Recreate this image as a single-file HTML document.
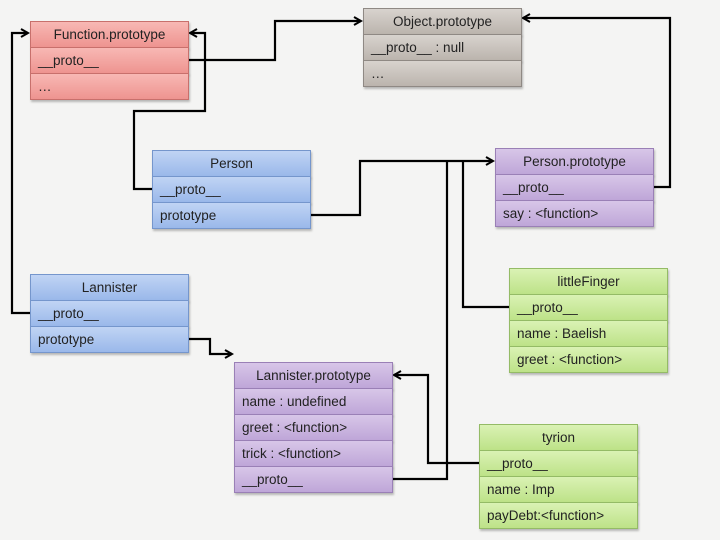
<!DOCTYPE html><html><head><style>
body{margin:0;width:720px;height:540px;background:#f4f4f3;position:relative;overflow:hidden;font-family:"Liberation Sans",sans-serif;}
.b{position:absolute;width:158px;}
.b div{height:25px;line-height:25px;font-size:13.5px;color:#222;padding-left:7px;border:1px solid;margin-bottom:-1px;box-sizing:content-box;width:150px;box-shadow:1px 2px 2px rgba(0,0,0,.25);}
.b div:first-child{text-align:center;padding-left:0;width:157px;}
.r div{background:linear-gradient(#f8b8b4,#ee9490);border-color:#c8706c}
.g div{background:linear-gradient(#d8d3ce,#bbb4ad);border-color:#8f8984}
.bl div{background:linear-gradient(#c0d4f4,#9ab8ea);border-color:#7596cc}
.p div{background:linear-gradient(#d8c6e8,#bfa6d8);border-color:#9a80b6}
.gr div{background:linear-gradient(#daf2b4,#bde288);border-color:#94bb66}
svg{position:absolute;left:0;top:0}
</style></head><body>
<svg width="720" height="540"><defs><marker id="a" markerWidth="10" markerHeight="10" refX="8" refY="5" orient="auto" markerUnits="userSpaceOnUse"><path d="M1,1 L8,5 L1,9" fill="none" stroke="#000" stroke-width="2"/></marker></defs>
<g fill="none" stroke="#000" stroke-width="2.2" marker-end="url(#a)">
<path d="M188,60 H275 V21 H361"/>
<path d="M152,189 H134 V111 H205 V33 H190"/>
<path d="M30,313 H12 V33 H28"/>
<path d="M653,187 H670 V18 H523"/>
<path d="M310,215 H360 V161 H493"/>
<path d="M479,463 H428 V375 H394"/>
<path d="M188,339 H210 V354 H232"/>
</g>
<g fill="none" stroke="#000" stroke-width="2.2">
<path d="M509,307 H463 V161"/>
<path d="M392,479 H447 V161"/>
</g></svg>
<div class="b r" style="left:30px;top:21px"><div>Function.prototype</div><div>__proto__</div><div>…</div></div>
<div class="b g" style="left:363px;top:8px"><div>Object.prototype</div><div>__proto__ : null</div><div>…</div></div>
<div class="b bl" style="left:152px;top:150px"><div>Person</div><div>__proto__</div><div>prototype</div></div>
<div class="b p" style="left:495px;top:148px"><div>Person.prototype</div><div>__proto__</div><div>say : &lt;function&gt;</div></div>
<div class="b gr" style="left:509px;top:268px"><div>littleFinger</div><div>__proto__</div><div>name : Baelish</div><div>greet : &lt;function&gt;</div></div>
<div class="b bl" style="left:30px;top:274px"><div>Lannister</div><div>__proto__</div><div>prototype</div></div>
<div class="b p" style="left:234px;top:362px"><div>Lannister.prototype</div><div>name : undefined</div><div>greet : &lt;function&gt;</div><div>trick : &lt;function&gt;</div><div>__proto__</div></div>
<div class="b gr" style="left:479px;top:424px"><div>tyrion</div><div>__proto__</div><div>name : Imp</div><div>payDebt:&lt;function&gt;</div></div>
</body></html>
